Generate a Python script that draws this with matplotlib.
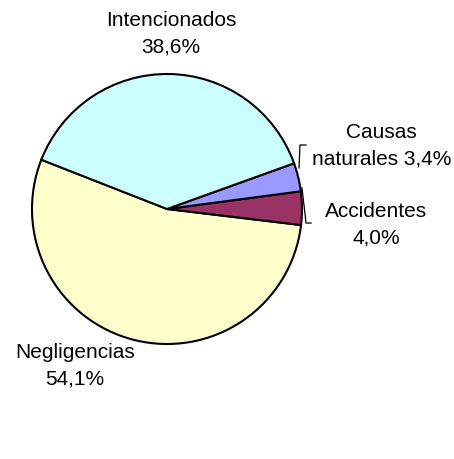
import matplotlib
matplotlib.use("Agg")
import matplotlib.pyplot as plt

# causes of forest fires (%)
causes = ["Negligencias", "Accidentes", "Causas naturales", "Intencionados"]
shares = [54.1, 4.0, 3.4, 38.6]
label_texts = ["Negligencias\n54,1%", "Accidentes\n4,0%",
               "Causas\nnaturales 3,4%", "Intencionados\n38,6%"]
colors = ["#FFFFCC", "#993366", "#9999FF", "#CCFFFF"]

# where each label sits (pie radius units)
label_pos = [(-0.68, -1.16), (1.55, -0.12), (1.59, 0.47), (0.03, 1.30)]

plt.rcParams["font.family"] = ["Liberation Sans", "DejaVu Sans"]

fig = plt.figure(figsize=(4.54, 4.59), dpi=100)
ax = fig.add_axes([0, 0, 1, 1])

ax.pie(shares, colors=colors, startangle=158.6, counterclock=True,
       radius=1.0, wedgeprops=dict(edgecolor="black", linewidth=1.5))

for txt, (x, y) in zip(label_texts, label_pos):
    ax.text(x, y, txt, ha="center", va="center", fontsize=15,
            linespacing=1.5, color="black")

# leader lines for the small slices
ax.plot([1.03, 0.985, 0.978], [0.474, 0.474, 0.304], color="black", lw=0.9)
ax.plot([1.0, 1.03, 1.067], [0.156, -0.104, -0.104], color="black", lw=0.9)

ax.set_xlim(-167 / 135, (454 - 167) / 135)
ax.set_ylim((209 - 459) / 135, 209 / 135)
ax.set_aspect("auto")
ax.set_axis_off()

fig.savefig("out.png", dpi=100)
